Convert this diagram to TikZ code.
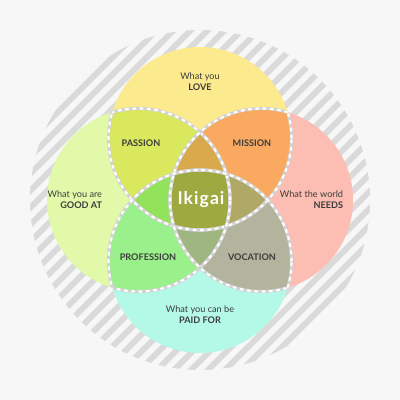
\documentclass[tikz,border=0pt]{standalone}
\usepackage{fontspec}
\setmainfont{Lato}
\usepackage{tikz}
\usetikzlibrary{positioning}
\definecolor{ikbg}{HTML}{F7F7F7}
\definecolor{ikstripe}{HTML}{DADADA}
\definecolor{ikline}{HTML}{D2D2D2}
\definecolor{iktext}{HTML}{3C3C3C}
\definecolor{iklove}{HTML}{FCEA8E}
\definecolor{ikgood}{HTML}{E2F9AA}
\definecolor{ikneeds}{HTML}{FCBDB3}
\definecolor{ikpaid}{HTML}{B4F9E7}
\definecolor{ikpassion}{HTML}{D9E85C}
\definecolor{ikmission}{HTML}{F9AA60}
\definecolor{ikprofession}{HTML}{9AF08B}
\definecolor{ikvocation}{HTML}{B3B49E}
\definecolor{iktlr}{HTML}{D9AA4C}
\definecolor{iktlb}{HTML}{93E25B}
\definecolor{iktrb}{HTML}{B0A966}
\definecolor{iklrb}{HTML}{A0B680}
\definecolor{ikall}{HTML}{9EA93F}
\def\ikr{2.2875cm}

\begin{document}
\begin{tikzpicture}[x=0.025cm, y=-0.025cm,
  every node/.style={align=center, font=\fontsize{6.5}{7.6}\selectfont, text=iktext},
  lbl/.style={font=\bfseries\fontsize{6.5}{7.6}\selectfont},
  ringline/.style={draw=ikline, line width=2.2pt},
  ringdash/.style={draw=white, line width=1.5pt, dash pattern=on 2.6pt off 2.6pt}]
  \useasboundingbox[fill=ikbg] (0,0) rectangle (400,400);
  \coordinate (mid) at (200,200);
  \coordinate (top) at (200,138.5);
  \coordinate (left) at (138.5,200);
  \coordinate (right) at (261.5,200);
  \coordinate (bottom) at (200,261.5);
  \begin{scope}
    \clip (mid) circle[radius=4.25cm];
    \foreach \s in {-400,-383,...,400}
      \draw[ikstripe, line width=4.2pt] (\s,400) -- (\s+400,0);
  \end{scope}
  \fill[iklove] (top) circle[radius=\ikr];
  \fill[ikgood] (left) circle[radius=\ikr];
  \fill[ikneeds] (right) circle[radius=\ikr];
  \fill[ikpaid] (bottom) circle[radius=\ikr];
  \begin{scope}
    \clip (top) circle[radius=\ikr];
    \fill[ikpassion] (left) circle[radius=\ikr];
    \fill[ikmission] (right) circle[radius=\ikr];
  \end{scope}
  \begin{scope}
    \clip (bottom) circle[radius=\ikr];
    \fill[ikprofession] (left) circle[radius=\ikr];
    \fill[ikvocation] (right) circle[radius=\ikr];
  \end{scope}
  \begin{scope}
    \clip (top) circle[radius=\ikr];
    \clip (left) circle[radius=\ikr];
    \fill[iktlr] (right) circle[radius=\ikr];
    \fill[iktlb] (bottom) circle[radius=\ikr];
  \end{scope}
  \begin{scope}
    \clip (bottom) circle[radius=\ikr];
    \clip (right) circle[radius=\ikr];
    \fill[iktrb] (top) circle[radius=\ikr];
    \fill[iklrb] (left) circle[radius=\ikr];
  \end{scope}
  \begin{scope}
    \clip (top) circle[radius=\ikr];
    \clip (left) circle[radius=\ikr];
    \clip (right) circle[radius=\ikr];
    \fill[ikall] (bottom) circle[radius=\ikr];
  \end{scope}
  \foreach \c in {top,left,right,bottom}
    \foreach \o in {top,left,right,bottom} {
      \ifx\c\o\else
        \begin{scope}
          \clip (\o) circle[radius=\ikr];
          \draw[ringline] (\c) circle[radius=\ikr];
          \draw[ringdash] (\c) circle[radius=\ikr];
        \end{scope}
      \fi
    }
  \node (love) at (200,82) {What you\\\textbf{LOVE}};
  \node[align=right, anchor=east] (goodat) at (107,200) {What you are\\\textbf{GOOD AT}};
  \node[align=right, anchor=east] (needs) at (348,200) {What the world\\\textbf{NEEDS}};
  \node (paid) at (200,315) {What you can be\\\textbf{PAID FOR}};
  \node[lbl] (passion) at (141,143) {PASSION};
  \node[lbl] (mission) at (252,143) {MISSION};
  \node[lbl] (profession) at (148,257) {PROFESSION};
  \node[lbl] (vocation) at (252,257) {VOCATION};
  \node[font=\bfseries\fontsize{12.5}{13}\selectfont\addfontfeature{LetterSpace=6}, text=white] (ikigai) at (201,200) {Ikigai};
\end{tikzpicture}
\end{document}
